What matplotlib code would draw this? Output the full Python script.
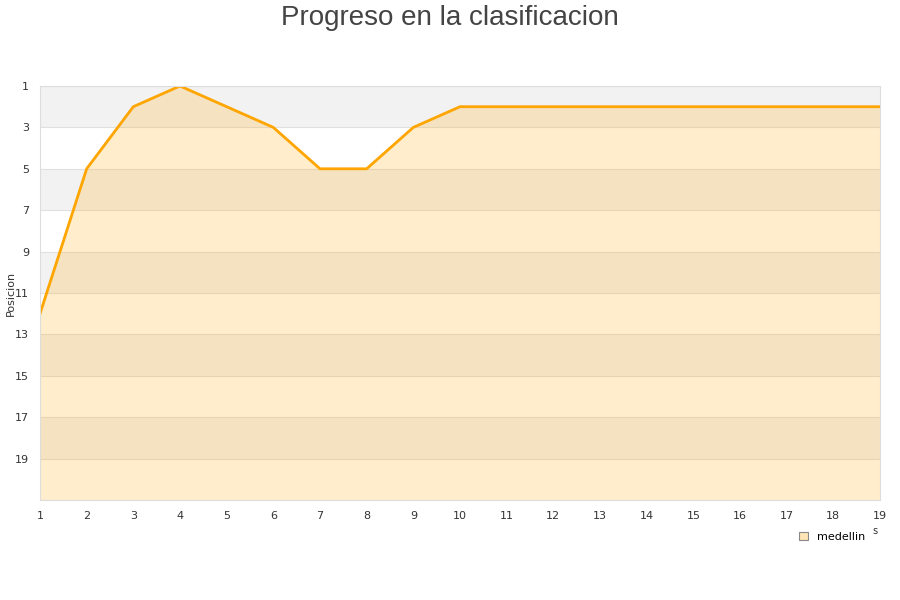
import matplotlib.pyplot as plt
from matplotlib.patches import Patch

# datos de la clasificacion
jornadas = list(range(1, 20))
posicion = [12, 5, 2, 1, 2, 3, 5, 5, 3, 2, 2, 2, 2, 2, 2, 2, 2, 2, 2]
y_ticks = [1, 3, 5, 7, 9, 11, 13, 15, 17, 19]
equipo = "medellin"

fig = plt.figure(figsize=(9, 6), dpi=100)
ax = fig.add_axes([40 / 900, 100 / 600, 840 / 900, 414 / 600])

# bandas alternas
for i, y0 in enumerate(range(1, 21, 2)):
    if i % 2 == 0:
        ax.axhspan(y0, y0 + 2, color="#f2f2f2", zorder=0, lw=0)
    ax.axhline(y0, color="#e0e0e0", lw=0.8, zorder=0.5)

ax.fill_between(jornadas, posicion, 21, color="orange", alpha=0.2, lw=0, zorder=1)
ax.plot(jornadas, posicion, color="orange", lw=2.0, zorder=2)

ax.set_xlim(1, 19)
ax.set_ylim(21, 1)
ax.set_xticks(jornadas)
ax.set_yticks(y_ticks)
ax.tick_params(length=0, labelsize=8, colors="#333333", pad=8)
for s in ax.spines.values():
    s.set_color("#dddddd")
fig.text(11 / 900, 1 - 293 / 600, "Posicion", fontsize=8, color="#333333",
         rotation=90, ha="center", va="center")

fig.text(0.5, 1 - 18 / 600, "Progreso en la clasificacion", fontsize=20, color="#444444",
         ha="center", va="center", family="Liberation Sans")
fig.text(875 / 900, 1 - 531 / 600, "s", fontsize=7, color="#333333", ha="center", va="center")

leg = fig.legend(handles=[Patch(facecolor="#ffe4b5", edgecolor="#888888", lw=0.8, label=equipo)],
                 loc="center", bbox_to_anchor=(832 / 900, 1 - 537 / 600), frameon=False,
                 fontsize=8, handlelength=0.8, handleheight=0.8, handletextpad=0.8)

fig.savefig("out.png", dpi=100)
